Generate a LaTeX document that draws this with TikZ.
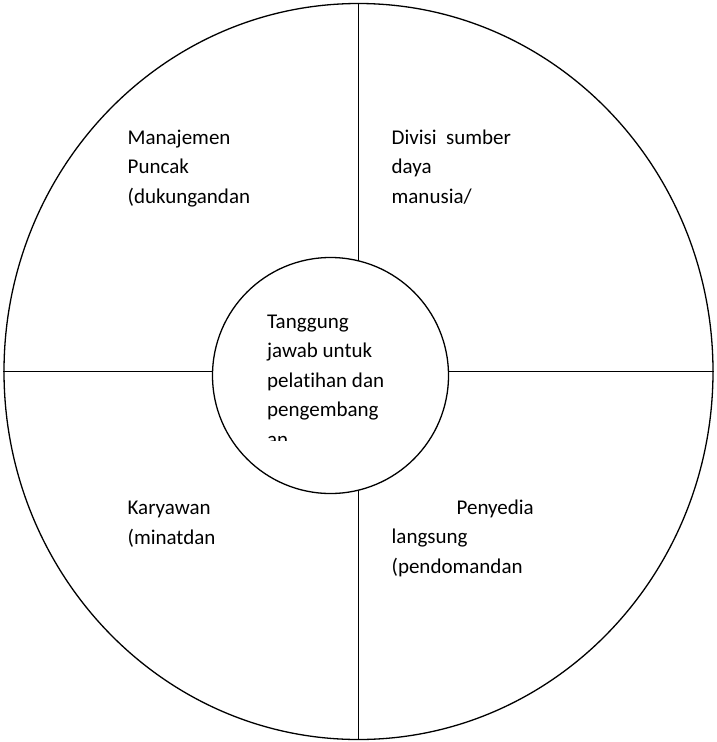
\documentclass[tikz,border=0pt]{standalone}
\usepackage{fontspec}
\setmainfont[Ligatures=NoCommon]{Carlito}
\usetikzlibrary{shapes.geometric}
\tikzset{
  part/.style={anchor=base west,align=left,inner sep=0pt,font=\fontsize{21}{29.5}\selectfont},
}
\begin{document}
\begin{tikzpicture}[x=1pt,y=-1pt,line width=1.3pt]
\useasboundingbox (0,0) rectangle (716,742);
\node[draw,ellipse,inner sep=0pt,minimum width=709pt,minimum height=736pt] (outer) at (358.5,371.5) {};
\draw (outer.north) -- (outer.south);
\draw (outer.west) -- (outer.east);
\node[draw,circle,fill=white,inner sep=0pt,minimum size=236pt] (inner) at (330.5,375.5) {};
% last baseline of each block
\begin{scope}
\clip (inner.west |- inner.north) rectangle (inner.east |- 0,440);
\node[part] (centre) at (266.5,446) {Tanggung\\jawab untuk\\pelatihan dan\\pengembang\\an};
\end{scope}
\node[part] (top) at (127,203) {Manajemen\\Puncak\\(dukungandan};
\node[part] (hr) at (391,203) {Divisi\ \ sumber\\daya\\manusia/};
\node[part] (staff) at (127,544) {Karyawan\\(minatdan};
\node[part] (supervisor) at (391,573) {\hspace{65pt}Penyedia\\langsung\\(pendomandan};
\end{tikzpicture}
\end{document}
